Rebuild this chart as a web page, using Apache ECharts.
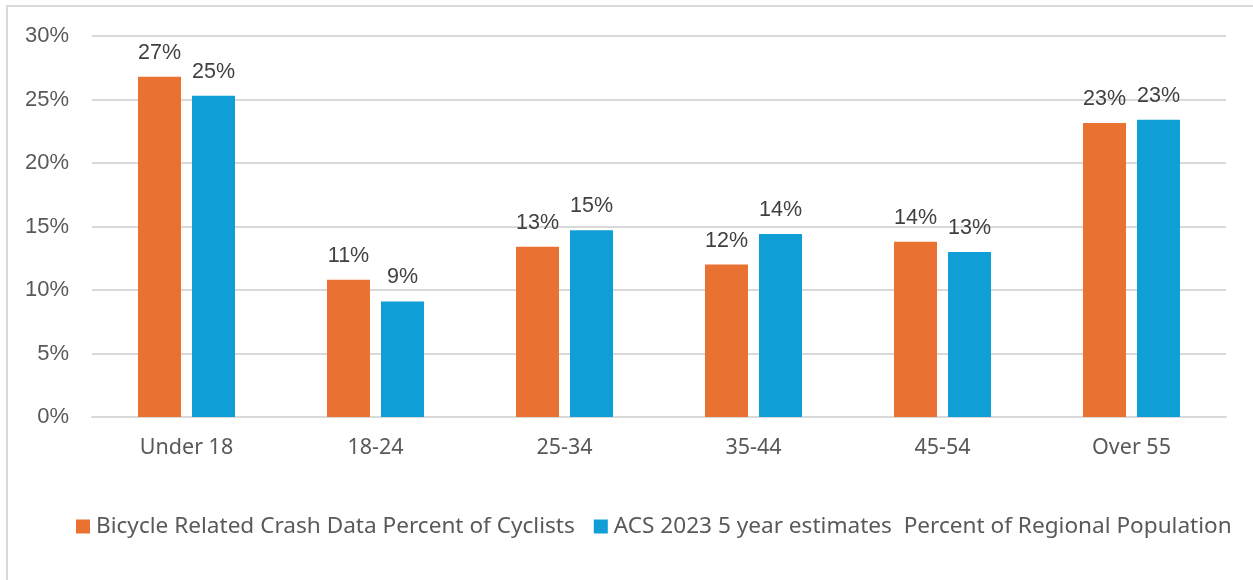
<!DOCTYPE html>
<html>
<head>
<meta charset="utf-8">
<script src="https://cdn.jsdelivr.net/npm/echarts@6/dist/echarts.min.js"></script>
<style>
html,body{margin:0;padding:0;background:#fff;}
#chart{width:1253px;height:580px;}
</style>
</head>
<body>
<div id="chart"></div>
<script>
const categories = ['Under 18', '18-24', '25-34', '35-44', '45-54', 'Over 55'];
const crashData = [26.8, 10.8, 13.4, 12.0, 13.8, 23.15];
const acsData = [25.3, 9.1, 14.7, 14.4, 13.0, 23.4];
const seriesNames = ['Bicycle Related Crash Data Percent of Cyclists', 'ACS 2023 5 year estimates  Percent of Regional Population'];
const yTicks = [0, 5, 10, 15, 20, 25, 30];

const chart = echarts.init(document.getElementById('chart'), null, {renderer: 'canvas'});
const labelStyle = {
  show: true, position: 'top', distance: 13,
  fontFamily: 'Liberation Sans', fontSize: 21.5, color: '#404040',
  formatter: p => Math.round(p.value) + '%'
};
chart.setOption({
  animation: false,
  backgroundColor: '#fff',
  graphic: [{
    type: 'rect', shape: {x: 7, y: 6, width: 1400, height: 700},
    style: {fill: 'none', stroke: '#d9d9d9', lineWidth: 2}, silent: true
  }],
  grid: {left: 92, right: 27, top: 36, bottom: 163, containLabel: false},
  legend: {
    left: 71, top: 510, itemWidth: 14, itemHeight: 14, itemGap: 19,
    icon: 'rect',
    textStyle: {fontFamily: 'Noto Sans', fontSize: 22.6, color: '#595959', padding: [0, 0, 0, 1]},
    data: seriesNames
  },
  xAxis: {
    type: 'category', data: categories,
    axisLine: {show: true, lineStyle: {color: '#d9d9d9', width: 2}},
    axisTick: {show: false},
    axisLabel: {fontFamily: 'Noto Sans', fontSize: 21.5, color: '#595959', margin: 20}
  },
  yAxis: {
    type: 'value', min: yTicks[0], max: yTicks[yTicks.length - 1], interval: 5,
    axisLine: {show: false}, axisTick: {show: false},
    splitLine: {lineStyle: {color: '#d9d9d9', width: 2}},
    axisLabel: {fontFamily: 'Liberation Sans', fontSize: 22, color: '#595959', margin: 23,
      formatter: v => v + '%'}
  },
  series: [
    {name: seriesNames[0], type: 'bar', data: crashData, barWidth: 43, barGap: '25.6%',
     itemStyle: {color: '#E97132'}, label: labelStyle},
    {name: seriesNames[1], type: 'bar', data: acsData, barWidth: 43,
     itemStyle: {color: '#0F9ED5'}, label: labelStyle}
  ]
});
</script>
</body>
</html>
